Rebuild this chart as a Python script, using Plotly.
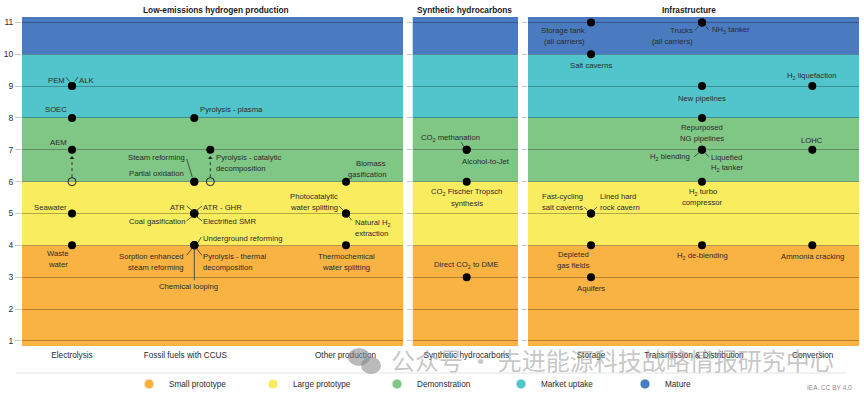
import plotly.graph_objects as go

# ---------------- data ----------------
stage_names = ["Small prototype", "Large prototype", "Demonstration", "Market uptake", "Mature"]
stage_floor_trl = [None, 4, 6, 8, 10]          # TRL at which each stage band starts
trl_ticks = [1, 2, 3, 4, 5, 6, 7, 8, 9, 10, 11]

panel_titles = ["Low-emissions hydrogen production", "Synthetic hydrocarbons", "Infrastructure"]
panel_categories = [
    ["Electrolysis", "Fossil fuels with CCUS", "Other production"],
    ["Synthetic hydrocarbons"],
    ["Storage", "Transmission & Distribution", "Conversion"],
]

tech_names = [
    "PEM", "ALK", "SOEC", "AEM", "Seawater", "Waste water",
    "Pyrolysis - plasma", "Pyrolysis - catalytic decomposition", "Steam reforming", "Partial oxidation",
    "ATR", "ATR - GHR", "Coal gasification", "Electrified SMR", "Underground reforming",
    "Sorption enhanced steam reforming", "Pyrolysis - thermal decomposition", "Chemical looping",
    "Biomass gasification", "Photocatalytic water splitting", "Natural H<sub>2</sub> extraction",
    "Thermochemical water splitting",
    "CO<sub>2</sub> methanation", "Alcohol-to-Jet", "CO<sub>2</sub> Fischer Tropsch synthesis",
    "Direct CO<sub>2</sub> to DME",
    "Storage tank (all carriers)", "Salt caverns", "Fast-cycling salt caverns", "Lined hard rock cavern",
    "Depleted gas fields", "Aquifers",
    "Trucks (all carriers)", "NH<sub>3</sub> tanker", "New pipelines", "Repurposed NG pipelines",
    "H<sub>2</sub> blending", "Liquefied H<sub>2</sub> tanker", "H<sub>2</sub> turbo compressor",
    "H<sub>2</sub> de-blending",
    "H<sub>2</sub> liquefaction", "LOHC", "Ammonia cracking",
]
tech_category = (
    ["Electrolysis"] * 6
    + ["Fossil fuels with CCUS"] * 12
    + ["Other production"] * 4
    + ["Synthetic hydrocarbons"] * 4
    + ["Storage"] * 6
    + ["Transmission & Distribution"] * 8
    + ["Conversion"] * 3
)
tech_trl = [
    9, 9, 8, 7, 5, 4,
    8, 7, 6, 6, 5, 5, 5, 5, 4, 4, 4, 4,
    6, 5, 5, 4,
    7, 7, 6, 3,
    11, 10, 5, 5, 4, 3,
    11, 11, 9, 8, 7, 7, 6, 4,
    9, 7, 4,
]
moved_techs = ["AEM", "Pyrolysis - catalytic decomposition"]
moved_from_trl = [6, 6]

# ---------------- styling / layout ----------------
FONT = "Liberation Sans, Arial, sans-serif"
TXT = "#2b2b2b"
LBL_SIZE = 7.7
LINE = 11
stage_colors = ["#f8b342", "#f9ec5f", "#80c684", "#52c5cc", "#4a7bc0"]
GRID = "rgba(0,0,0,0.28)"
Y_RANGE = [0.84, 11.17]
W, H = 864, 396
ML, MR, MT, MB = 22, 5, 17, 50
PW, PH = W - ML - MR, H - MT - MB

def px_x(p):
    return (p - ML) / PW

def px_y(p):
    return (H - MB - p) / PH

# panel pixel extents (left, right) and category positions within each panel (pixels from panel left)
panel_px = [(22, 403), (412.7, 518), (528, 859)]
cat_pos = {"Electrolysis": 50, "Fossil fuels with CCUS": 172.3, "Other production": 324,
           "Synthetic hydrocarbons": 54,
           "Storage": 63, "Transmission & Distribution": 174, "Conversion": 284.3}
cat_tick_pos = {"Electrolysis": 50, "Fossil fuels with CCUS": 163.3, "Other production": 323.5,
                "Synthetic hydrocarbons": 53.6,
                "Storage": 63, "Transmission & Distribution": 166, "Conversion": 284.7}
x_nudge = {"Pyrolysis - catalytic decomposition": 16}

# label placement: dx, dy (screen px from dot, dy down), anchor, split (#words on first line), leader line
LS = {
    "PEM": dict(dx=-6, dy=-6, xa="right", lead=(-6, -9, -2.5, -4.5)),
    "ALK": dict(dx=6, dy=-6, xa="left", lead=(2.5, -4.5, 6, -9)),
    "SOEC": dict(dx=-4, dy=-8, xa="right"),
    "AEM": dict(dx=-4, dy=-7, xa="right"),
    "Seawater": dict(dx=-4, dy=-6, xa="right"),
    "Waste water": dict(dx=-14, dy=13.5, xa="center", split=1),
    "Pyrolysis - plasma": dict(dx=5, dy=-8, xa="left"),
    "Pyrolysis - catalytic decomposition": dict(dx=4.3, dy=13, xa="left", split=3),
    "Steam reforming": dict(dx=-8, dy=-23.7, xa="right", lead=(-7.6, -22.7, -2, -4.4)),
    "Partial oxidation": dict(dx=-9, dy=-7.7, xa="right"),
    "ATR": dict(dx=-8.6, dy=-6, xa="right", lead=(-7.6, -7.3, -1.6, -2.6)),
    "ATR - GHR": dict(dx=7.7, dy=-6, xa="left", lead=(1.6, -2.6, 7.6, -7.3)),
    "Coal gasification": dict(dx=-8.6, dy=8.4, xa="right", lead=(-7.6, 7.3, -1.6, 2.6)),
    "Electrified SMR": dict(dx=7.7, dy=8.4, xa="left", lead=(1.6, 2.6, 7.6, 7.3)),
    "Underground reforming": dict(dx=7.7, dy=-6.7, xa="left", lead=(3, -1.7, 7, -8.3)),
    "Sorption enhanced steam reforming": dict(dx=-9.3, dy=16.5, xa="right", split=2, lead=(-7.6, 10, -1.6, 2.3)),
    "Pyrolysis - thermal decomposition": dict(dx=7.7, dy=16.5, xa="left", split=3, lead=(1.6, 2.3, 7.6, 10)),
    "Chemical looping": dict(dx=-6, dy=41.3, xa="center", lead=(0, 3, 0, 35)),
    "Biomass gasification": dict(dx=41.3, dy=-13, xa="right", split=1),
    "Photocatalytic water splitting": dict(dx=-6.7, dy=-12, xa="right", split=1,
                                           lead=(-7, -7.3, -2.7, -3.3)),
    "Natural H<sub>2</sub> extraction": dict(dx=8, dy=14.5, xa="left", split=2, lead=(1.7, 1.7, 5.7, 6.7)),
    "Thermochemical water splitting": dict(dx=0, dy=17, xa="center", split=1),
    "CO<sub>2</sub> methanation": dict(dx=-16, dy=-11.7, xa="center", lead=(-5.7, -7.7, -2.4, -2.7)),
    "Alcohol-to-Jet": dict(dx=19.6, dy=11.7, xa="center"),
    "CO<sub>2</sub> Fischer Tropsch synthesis": dict(dx=0, dy=16, xa="center", split=3),
    "Direct CO<sub>2</sub> to DME": dict(dx=0, dy=-12, xa="center"),
    "Storage tank (all carriers)": dict(dx=-5.3, dy=13.3, xa="right", split=2),
    "Salt caverns": dict(dx=-0.5, dy=11, xa="center"),
    "Fast-cycling salt caverns": dict(dx=-6.7, dy=-12, xa="right", split=1,
                                      lead=(-6.7, -6.4, -3.3, -3)),
    "Lined hard rock cavern": dict(dx=8, dy=-12, xa="left", split=2, lead=(2.3, -3, 6, -6.4)),
    "Depleted gas fields": dict(dx=-17.5, dy=14.3, xa="center", split=1),
    "Aquifers": dict(dx=0, dy=11.5, xa="center"),
    "Trucks (all carriers)": dict(dx=-7.7, dy=13.6, xa="right", split=1, lead=(-7, 8, -2.7, 2.6)),
    "NH<sub>3</sub> tanker": dict(dx=8.7, dy=8, xa="left", lead=(2.7, 2.6, 7, 8)),
    "New pipelines": dict(dx=0, dy=12.3, xa="center"),
    "Repurposed NG pipelines": dict(dx=0, dy=15, xa="center", split=1),
    "H<sub>2</sub> blending": dict(dx=-11, dy=7.3, xa="right", lead=(-8, 7, -3, 3)),
    "Liquefied H<sub>2</sub> tanker": dict(dx=8, dy=12.8, xa="left", split=1, lead=(3, 3, 7, 7)),
    "H<sub>2</sub> turbo compressor": dict(dx=0.5, dy=15.5, xa="center", split=2),
    "H<sub>2</sub> de-blending": dict(dx=0, dy=10.3, xa="center"),
    "H<sub>2</sub> liquefaction": dict(dx=0, dy=-10, xa="center"),
    "LOHC": dict(dx=0, dy=-9.3, xa="center"),
    "Ammonia cracking": dict(dx=0, dy=10.7, xa="center"),
}

def panel_of(cat):
    for i, cats in enumerate(panel_categories):
        if cat in cats:
            return i
    return 0

def axis_suffix(i):
    return "" if i == 0 else str(i + 1)

fig = go.Figure()
shapes, annotations = [], []

# axes
for i, (l, r) in enumerate(panel_px):
    s = axis_suffix(i)
    cats = panel_categories[i]
    fig.layout["xaxis" + s] = dict(
        domain=[px_x(l), px_x(r)], range=[0, r - l], anchor="y" + s, automargin=False,
        tickvals=[cat_tick_pos[c] for c in cats], ticktext=cats, ticklabelstandoff=3,
        showgrid=False, zeroline=False, showline=False, ticks="",
        tickfont=dict(family=FONT, size=8.2, color=TXT), fixedrange=True,
    )
    ycfg = dict(
        domain=[0, 1], range=Y_RANGE, anchor="x" + s, tickvals=trl_ticks, automargin=False,
        showgrid=True, gridcolor=GRID, gridwidth=1, zeroline=False, showline=False,
        ticks="outside", ticklen=6 if i == 0 else 5, tickcolor="rgba(0,0,0,0.22)", tickwidth=1,
        showticklabels=(i == 0), tickfont=dict(family=FONT, size=8.5, color=TXT), fixedrange=True,
    )
    if i > 0:
        ycfg["matches"] = "y"
    fig.layout["yaxis" + s] = ycfg

    # stage bands
    for k, name in enumerate(stage_names):
        y0 = Y_RANGE[0] if stage_floor_trl[k] is None else stage_floor_trl[k]
        y1 = stage_floor_trl[k + 1] if k + 1 < len(stage_floor_trl) else Y_RANGE[1]
        shapes.append(dict(type="rect", xref="x" + s + " domain", yref="y" + s,
                           x0=0, x1=1, y0=y0, y1=y1, fillcolor=stage_colors[k],
                           line=dict(width=0), layer="below"))

    # panel title
    annotations.append(dict(text="<b>" + panel_titles[i] + "</b>", xref="paper", yref="paper",
                            x=px_x([215.5, 464, 688.5][i]), y=px_y(10), showarrow=False,
                            xanchor="center", yanchor="middle",
                            font=dict(family=FONT, size=8.3, color="#1a1a1a")))

# dots and labels
for i in range(len(panel_categories)):
    s = axis_suffix(i)
    xs, ys, names = [], [], []
    for name, cat, trl in zip(tech_names, tech_category, tech_trl):
        if panel_of(cat) != i:
            continue
        x = cat_pos[cat] + x_nudge.get(name, 0)
        xs.append(x); ys.append(trl); names.append(name)
        st = LS[name]
        words = name.split(" ")
        k = st.get("split")
        lines = [name] if not k else [" ".join(words[:k]), " ".join(words[k:])]
        n = len(lines)
        for j, ln in enumerate(lines):
            off = st["dy"] + (j - (n - 1) / 2) * LINE
            annotations.append(dict(
                text=ln, x=x, y=trl, xref="x" + s, yref="y" + s, showarrow=False,
                xshift=st["dx"], yshift=-off, xanchor=st["xa"], yanchor="middle",
                borderpad=0, font=dict(family=FONT, size=LBL_SIZE, color=TXT)))
        if "lead" in st:
            a, b, c, d = st["lead"]
            shapes.append(dict(type="line", xref="x" + s, yref="y" + s,
                               xsizemode="pixel", ysizemode="pixel", xanchor=x, yanchor=trl,
                               x0=a, x1=c, y0=-b, y1=-d, line=dict(color="#333333", width=0.8),
                               layer="above"))
    # moved technologies: open circle + dotted arrow
    mx, my, tx, ty = [], [], [], []
    for name, frm in zip(moved_techs, moved_from_trl):
        j = tech_names.index(name)
        if panel_of(tech_category[j]) != i:
            continue
        x = cat_pos[tech_category[j]] + x_nudge.get(name, 0)
        mx.append(x); my.append(frm)
        tx.append(x); ty.append(tech_trl[j] - 0.26)
        shapes.append(dict(type="line", xref="x" + s, yref="y" + s, x0=x, x1=x,
                           y0=frm + 0.14, y1=tech_trl[j] - 0.3,
                           line=dict(color="#333333", width=1, dash="dot"), layer="above"))
    if mx:
        fig.add_trace(go.Scatter(x=mx, y=my, xaxis="x" + s, yaxis="y" + s, mode="markers",
                                 marker=dict(symbol="circle-open", size=8, color="#222222",
                                             line=dict(width=1)),
                                 showlegend=False, hoverinfo="skip"))
        fig.add_trace(go.Scatter(x=tx, y=ty, xaxis="x" + s, yaxis="y" + s, mode="markers",
                                 marker=dict(symbol="triangle-up", size=4, color="#222222"),
                                 showlegend=False, hoverinfo="skip"))
    fig.add_trace(go.Scatter(x=xs, y=ys, xaxis="x" + s, yaxis="y" + s, mode="markers",
                             marker=dict(size=8, color="#000000"), text=names,
                             hoverinfo="text", showlegend=False))

# legend entries
for name, col in zip(stage_names, stage_colors):
    fig.add_trace(go.Scatter(x=[None], y=[None], mode="markers", name=name,
                             marker=dict(size=10, color=col, line=dict(color="rgba(255,255,255,0.7)", width=1))))

# separator line above legend
shapes.append(dict(type="line", xref="paper", yref="paper", x0=px_x(16), x1=px_x(847),
                   y0=px_y(373), y1=px_y(373), line=dict(color="#e3e3e3", width=1)))

annotations.append(dict(text="IEA. CC BY 4.0", xref="paper", yref="paper", x=px_x(854), y=px_y(387),
                        xanchor="right", yanchor="middle", showarrow=False,
                        font=dict(family=FONT, size=6.5, color="#8c8c8c")))

# watermark overlay
annotations.append(dict(text="公众号 · 先进能源科技战略情报研究中心", xref="paper", yref="paper",
                        x=px_x(836), y=px_y(359), xanchor="right", yanchor="middle", showarrow=False,
                        font=dict(family="Noto Sans CJK SC", size=24, color="rgba(150,150,150,0.55)")))
shapes.append(dict(type="circle", xref="paper", yref="paper", x0=px_x(348), x1=px_x(370),
                   y0=px_y(366), y1=px_y(348), fillcolor="rgba(130,130,130,0.55)", line=dict(width=0)))
shapes.append(dict(type="circle", xref="paper", yref="paper", x0=px_x(361), x1=px_x(381),
                   y0=px_y(374), y1=px_y(357), fillcolor="rgba(130,130,130,0.55)", line=dict(width=0)))

fig.update_layout(
    width=W, height=H, margin=dict(l=ML, r=MR, t=MT, b=MB, autoexpand=False),
    paper_bgcolor="white", plot_bgcolor="white",
    shapes=shapes, annotations=annotations,
    showlegend=True,
    legend=dict(orientation="h", x=px_x(129), y=px_y(384), xanchor="left", yanchor="middle",
                entrywidth=79, entrywidthmode="pixels", bgcolor="rgba(0,0,0,0)",
                font=dict(family=FONT, size=8.2, color=TXT), itemclick=False, itemdoubleclick=False),
    font=dict(family=FONT, color=TXT),
)

fig.write_html("out.html", config={"displayModeBar": False},
               post_script="document.body.style.margin='0px';document.body.style.padding='0px';"
                           "document.body.style.overflow='hidden';")
